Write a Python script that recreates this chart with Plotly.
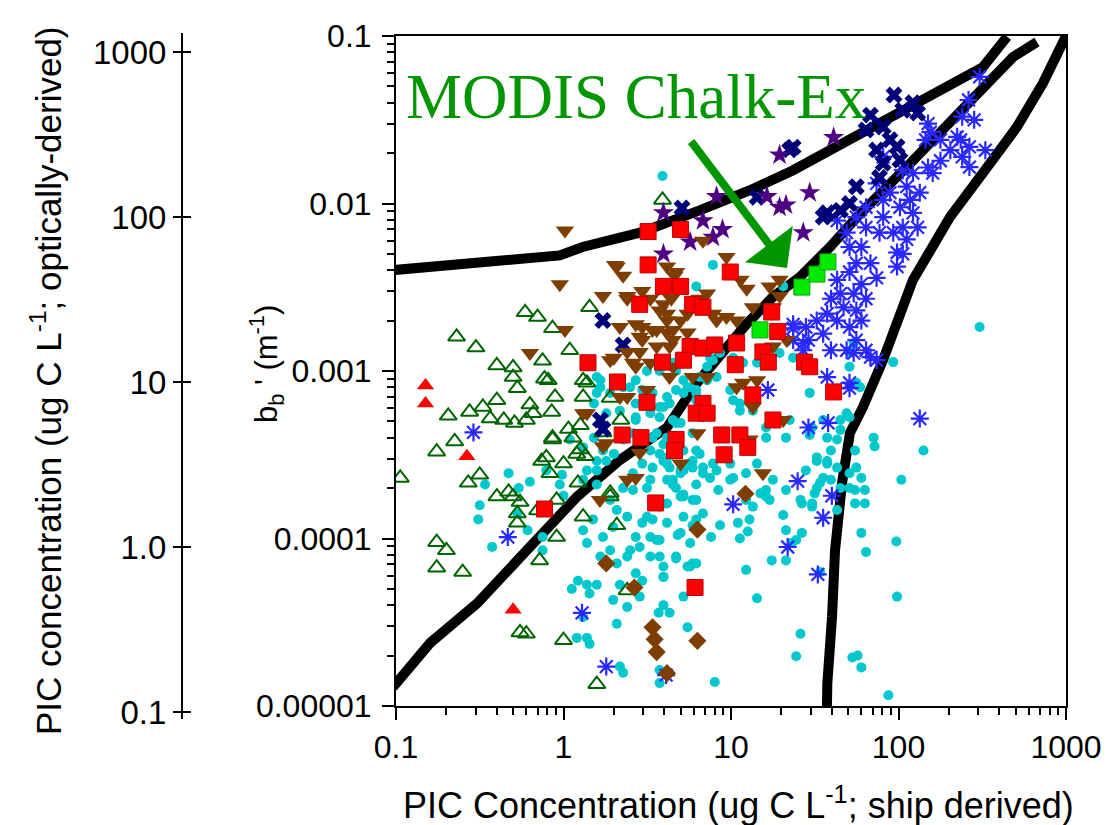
import plotly.graph_objects as go

# ---------------- data ----------------
cyan_pts = [
 (0.34,2.1e-4),(0.316,1.58e-4),(0.31,1.3e-4),(0.47,2.45e-4),(0.63,2.18e-4),(0.54,2.0e-4),(0.53,1.41e-4),(0.61,1.12e-4),
 (0.375,8.9e-5),(0.75,8.5e-5),(0.75,1.02e-4),(0.98,2.4e-4),(0.95,2.1e-4),(1.0,1.8e-4),(1.31,3.5e-4),(1.58,2.9e-4),
 (1.38,2.55e-4),(1.58,2.1e-4),(1.72,3.35e-4),(1.52,4.0e-4),(1.09,3.9e-4),(1.58,9.2e-4),(1.66,8.0e-4),(1.9,7.4e-4),
 (2.27,8.0e-4),(2.7,8.8e-4),(3.15,1.0e-3),(3.95,1.16e-3),(4.7,1.0e-3),(5.2,8.8e-4),(5.7,8.0e-4),(5.2,7.4e-4),
 (6.2,6.7e-4),(2.7,6.4e-4),(2.7,5.3e-4),(3.3,5.6e-4),(3.95,6.1e-4),(4.7,7.7e-4),(3.3,3.35e-4),(2.95,2.8e-4),
 (2.6,2.45e-4),(3.4,2.65e-4),(4.15,3.05e-4),(5.2,3.35e-4),(5.7,2.8e-4),(6.2,3.35e-4),(5.0,2.45e-4),(4.15,2.24e-4),
 (3.15,2.0e-4),(2.6,1.95e-4),(2.27,2.0e-4),(1.9,1.7e-4),(2.08,1.48e-4),(2.4,1.35e-4),(1.98,1.17e-4),(1.72,1.02e-4),
 (1.5,1.3e-4),(1.31,1.12e-4),(1.38,9.4e-5),(1.66,7.8e-5),(1.9,8.5e-5),(2.08,7.1e-5),(2.4,7.8e-5),(2.85,8.9e-5),
 (3.3,1.02e-4),(3.75,9.8e-5),(4.15,1.24e-4),(3.75,1.55e-4),(3.15,1.35e-4),(2.95,1.24e-4),(2.7,1.02e-4),(2.5,8.5e-5),
 (3.3,7.8e-5),(3.95,6.8e-5),(4.7,7.8e-5),(5.7,9.4e-5),(5.7,6.8e-5),(6.2,7.1e-5),(5.0,1.08e-4),(5.2,1.35e-4),
 (6.2,1.3e-4),(6.2,1.7e-4),(5.2,1.78e-4),(4.5,2.1e-4),(2.7,6.2e-5),(2.95,5.6e-5),(3.95,5.9e-5),(2.17,5.3e-5),
 (1.98,4.3e-5),(2.4,3.9e-5),(2.08,3.1e-5),(1.58,5.3e-5),(1.38,5.3e-5),(1.22,5.6e-5),(1.12,5.0e-5),(1.43,4.7e-5),
 (1.31,3.4e-5),(1.2,2.55e-5),(1.38,2.55e-5),(1.43,2.35e-5),(2.17,1.72e-5),(2.27,1.58e-5),(3.75,1.37e-5),(3.75,1.64e-5),
 (4.3,3.6e-5),(5.5,2.95e-5),(3.95,4.0e-5),(2.85,4.5e-5),(5.2,4.5e-5),
 (3.75,1.0e-3),(4.5,1.12e-3),(7.5,1.2e-3),(10.3,1.2e-3),(11.8,1.12e-3),(14.3,1.12e-3),(19.5,1.28e-3),(23.5,1.2e-3),
 (29.5,7.4e-4),(51,1.06e-3),(56,8.5e-4),(93,1.13e-3),(3.4,7.4e-4),(4.3,6.4e-4),(6.2,7.7e-4),(8.2,9.2e-4),
 (9.9,7.7e-4),(11.3,6.4e-4),(3.75,5.3e-4),(4.5,5.1e-4),(5.0,4.9e-4),(3.4,4.0e-4),(3.95,3.65e-4),(3.95,2.9e-4),
 (4.3,2.65e-4),(5.2,2.55e-4),(5.9,2.9e-4),(6.5,3.2e-4),(6.8,2.65e-4),(8.2,2.55e-4),(9.9,2.8e-4),(10.3,2.3e-4),
 (7.5,2.3e-4),(6.2,2.1e-4),(4.7,2.0e-4),(5.0,1.78e-4),(4.15,1.62e-4),(5.9,1.7e-4),(6.8,1.41e-4),(8.4,1.95e-4),
 (11,1.24e-4),(12.6,1.1e-4),(13.5,1.55e-4),(16.2,1.78e-4),(16.2,1.95e-4),(12.9,1.3e-4),(8.6,1.2e-4),(7.6,1.02e-4),
 (5.9,1.2e-4),(4.8,1.05e-4),(3.6,9.8e-5),(3.4,1.3e-4),(3.75,7.8e-5),(4.7,7.6e-5),(5.5,6.8e-5),(5.9,7.1e-5),
 (3.95,5.9e-5),(11.3,1.0e-4),(12.3,6.5e-5),(14.3,4.4e-5),(17.5,7.4e-5),(21.3,7.4e-5),(20.5,1.38e-4),(21.3,1.12e-4),
 (24.5,9.8e-5),(26.5,1.08e-4),(23,9.4e-5),(26.5,1.62e-4),(30.5,1.62e-4),(31.6,1.86e-4),(34,2.15e-4),(32.5,2.9e-4),
 (37.5,2.9e-4),(35.5,2.3e-4),(39.5,3.35e-4),(43,3.9e-4),(45,4.45e-4),(51,5.3e-4),(45,5.1e-4),(35.5,5.1e-4),
 (30.5,4.6e-4),(29.5,4.15e-4),(21.3,4.0e-4),(16.2,4.0e-4),(22.4,5.1e-4),(43,1.48e-4),(51,2.45e-4),(55,3.35e-4),
 (56,2.65e-4),(60,2.3e-4),(55,1.95e-4),(63,1.95e-4),(63,1.62e-4),(60,1.08e-4),(64,8.3e-5),(71,4.0e-4),
 (72,3.55e-4),(104,2.24e-4),(97,9.6e-5),(98,4.5e-5),(141,3.35e-4),(26,2.7e-5),(24.5,1.98e-5),(53,1.95e-5),
 (57,2.0e-5),(60,1.7e-5),(87,1.16e-5),(8.0,1.39e-5),(3.7,3.6e-5),(34,6.3e-5),(51,1.3e-3),(305,1.83e-3),
 (7.8,4.3e-3),(6.2,3.2e-3),(20.5,3.2e-3),(54,1.47e-3),(0.79,2.55e-4),(7.8,1.16e-3),(8.6,1.28e-3),(7.2,1.06e-3),
 (6.5,9.2e-4),(5.5,8.0e-4),(4.15,7.0e-4),(3.75,6.1e-4),(2.7,5.1e-4),(2.6,4.25e-4),(2.27,3.9e-4),(2.0,3.2e-4),
 (1.8,2.9e-4),(1.58,2.55e-4),(1.31,2.24e-4),(3.6,4.25e-4),(4.15,4.0e-4),(3.75,3.2e-4),(4.15,2.8e-4),(5.0,2.55e-4),
 (5.9,2.65e-4),(6.8,2.45e-4),(7.8,2.8e-4),(5.9,4.25e-4),(4.7,4.9e-4),(10.3,6.7e-4),(11.3,5.8e-4),(13.5,5.8e-4),
 (16.2,4.6e-4),(9.4,3.05e-4),(9.9,2.24e-4),(12.3,2.45e-4),(14.3,2.8e-4),(17.8,2.24e-4),(21.3,1.95e-4),(28,2.55e-4),
 (32.5,3.05e-4),(37.5,2.8e-4),(43,2.65e-4),(39.5,2.24e-4),(45,2.0e-4),(32.5,2.0e-4),(26,1.7e-4),(30.5,1.55e-4),
 (17,1.7e-4),(15,1.86e-4),(12.3,1.7e-4),(5.2,1.83e-4),(4.5,2.24e-4),(3.3,2.24e-4),(1.66,8.8e-4),(1.58,7.4e-4),
 (1.52,6.4e-4),(1.8,5.6e-4),(2.17,5.8e-4),(2.5,8.0e-4),(2.95,7.7e-4),(6.2,7.4e-4),(7.2,8.8e-4),(59,8.0e-4),
 (51,2.0e-4),(55,1.62e-4),(49,5.6e-4),(37.5,4.0e-4),(3.9,0.0146),
]

green_tri_pts = [
 (3.9,0.0105),(0.59,0.00224),(0.70,0.0021),(1.43,0.0024),(0.86,0.0018),(0.23,0.0016),(0.30,0.00138),(1.09,0.00133),
 (0.40,0.00108),(0.50,0.00105),(0.75,0.00115),(0.205,5.4e-4),(0.275,5.7e-4),(0.33,6.1e-4),(0.40,6.7e-4),(0.365,5.2e-4),
 (0.44,5.1e-4),(0.51,4.9e-4),(0.60,5.1e-4),(0.66,5.6e-4),(0.50,9.2e-4),(0.53,7.9e-4),(0.77,9.0e-4),(0.89,7.0e-4),
 (0.85,5.7e-4),(0.63,6.3e-4),(0.224,3.8e-4),(0.175,3.3e-4),(0.106,2.3e-4),(0.27,2.15e-4),(0.316,2.4e-4),(0.40,1.78e-4),
 (0.47,1.9e-4),(0.50,1.78e-4),(0.55,1.65e-4),(0.53,1.41e-4),(0.53,1.24e-4),(0.74,2.9e-4),(0.86,4.0e-4),(1.07,4.5e-4),
 (1.26,4.75e-4),(1.0,2.8e-4),(1.26,3.4e-4),(1.35,3.1e-4),(1.22,2.15e-4),(1.31,1.35e-4),(0.70,1.47e-4),(0.91,1.02e-4),
 (0.72,7.4e-5),(2.2,5.1e-4),(1.9,1.87e-4),(2.08,1.2e-4),(0.175,9.5e-5),(0.20,8.5e-5),(0.175,6.7e-5),(0.25,6.3e-5),
 (0.55,2.75e-5),(0.60,2.7e-5),(1.0,2.47e-5),(1.58,1.35e-5),(2.4,4.9e-5),(1.38,8.5e-4),(1.9,6.9e-4),(0.81,8.8e-4),
 (1.31,8.8e-4),(1.31,7.0e-4),(0.86,3.9e-4),(1.14,4.0e-4),(1.72,4.3e-4),(1.2,3.2e-4),(0.79,3.05e-4),(0.83,2.45e-4),
 (1.9,1.78e-4),(0.91,1.7e-4),
]

red_tri_pts = [(0.15,8.2e-4),(0.15,6.4e-4),(0.265,3.1e-4),(0.50,3.75e-5)]

blue_ast_pts = [
 (0.29,4.3e-4),(0.465,1.02e-4),(1.29,3.6e-5),(1.8,1.72e-5),(4.1,1.53e-5),(16.6,7.7e-4),(37.5,9.2e-4),(51,7.9e-4),
 (134,5.2e-4),(29,4.6e-4),(38,4.9e-4),(25,2.2e-4),(40,1.8e-4),(10.3,1.6e-4),(35.5,1.33e-4),(21.8,8.9e-5),
 (33,6.1e-5),(27,1.46e-3),(23.5,1.8e-3),
 (305,0.057),(262,0.0415),(240,0.033),(283,0.0316),(224,0.025),(265,0.0218),(178,0.018),(155,0.0267),
 (145,0.024),(204,0.0208),(150,0.0164),(122,0.0152),(112,0.0126),(134,0.0116),(117,0.0105),(102,0.0095),
 (122,0.0088),(130,0.0072),(106,0.0072),(93,0.0067),(112,0.0061),(98,0.0051),(81,0.0083),(77,0.0067),
 (64,0.0072),(60,0.0055),(51,0.0055),(56,0.0044),(68,0.0044),(74,0.0036),(60,0.0033),(51,0.0039),
 (43,0.0035),(45,0.0029),(54,0.0029),(64,0.0027),(56,0.0023),(47,0.0024),(39.5,0.0027),(37.5,0.0022),
 (32.5,0.002),(43,0.002),(51,0.00183),(60,0.002),(35.5,0.00167),(28,0.00183),(23.5,0.0019),(23.5,0.00153),
 (29,0.00153),(27,0.00133),(56,0.00153),(49,0.00133),(64,0.00133),(39.5,0.00133),(98,0.0042),(106,0.005),
 (89,0.0116),(106,0.0158),(81,0.019),(74,0.0132),(64,0.0095),(56,0.0083),(81,0.0105),(49,0.0067),
 (43,0.0079),(74,0.00116),(54,0.00128),(68,0.00121),(51,0.00085),(150,0.030),(178,0.024),(235,0.024),
 (265,0.0165),(160,0.0152),(240,0.019),(330,0.0208),
]

navy_x_pts = [
 (122,0.04),(130,0.0347),(106,0.036),(81,0.0286),(89,0.024),(74,0.0209),(81,0.0174),(98,0.0218),
 (64,0.0275),(77,0.0143),(56,0.0126),(37.5,0.0088),(51,0.010),(23.5,0.0217),(14.3,0.0109),(5.1,0.0094),
 (1.72,0.002),(2.27,0.00143),(45,0.0091),(35.5,0.0083),(1.66,5.1e-4),(1.72,4.5e-4),(22.4,0.0209),
 (94,0.0445),(68,0.0337),(102,0.0182),
]

purple_star_pts = [
 (3.95,0.0088),(3.95,0.005),(5.7,0.0059),(6.8,0.0079),(8.2,0.011),(8.9,0.007),(7.8,0.0063),(16.4,0.011),
 (19.5,0.0095),(21.3,0.0098),(27,0.0067),(29.5,0.0116),(19.5,0.0195),(41,0.0248),
]

brown_tri_pts = [
 (1.02,0.0069),(0.95,0.0033),(2.08,0.0042),(2.27,0.0037),(2.95,0.0030),(4.15,0.0042),(4.7,0.0039),(2.4,0.0027),
 (3.3,0.0027),(3.75,0.0023),(4.15,0.002),(4.5,0.00176),(5.0,0.002),(3.6,0.00176),(2.17,0.00183),(2.7,0.0019),
 (2.95,0.00153),(3.6,0.0014),(4.3,0.0014),(1.02,0.00176),(0.63,0.00128),(1.9,0.00116),(2.6,0.00112),(2.03,0.0043),
 (2.4,0.0028),(3.95,0.0025),(4.6,0.0037),(4.4,0.0027),(4.15,0.0022),(3.4,0.00176),(2.95,0.00183),(2.0,0.0012),
 (2.4,0.0013),(2.85,0.0013),(4.15,0.0017),(4.5,0.00153),(5.5,0.0022),(6.8,0.006),(6.5,0.0027),(7.2,0.0029),
 (7.8,0.0022),(8.2,0.002),(9.4,0.0048),(9.4,0.0021),(11.4,0.0035),(12.4,0.0031),(10.8,0.002),(13.5,0.0024),
 (17,0.0032),(19.5,0.0035),(19.5,0.0028),(17.8,0.0024),(21.5,0.00153),(17.8,0.0014),(14.3,8.8e-4),(11.8,8.5e-4),
 (13.5,6.1e-4),(5.5,0.0017),(4.5,0.00106),(3.3,0.00112),(2.7,0.00106),(2.4,7.0e-4),(1.38,5.6e-4),(1.8,3.7e-4),
 (2.85,3.25e-4),(3.15,7.7e-4),(6.3,4.25e-4),(5.0,2.8e-4),(15.5,2.45e-4),(2.4,2.24e-4),(1.65,1.7e-4),(2.7,2.3e-4),
 (4.3,9.2e-4),(2.17,7.0e-4),(6.5,0.0014),(7.2,9.2e-4),(1.72,0.0028),(2.85,0.0016),(1.31,5.6e-4),(1.72,3.55e-4),
 (5.9,9.2e-4),(10.8,8.0e-4),(20.5,5.1e-4),(12.9,3.9e-4),
]

brown_dia_pts = [(1.8,7.1e-5),(2.65,5.1e-5),(3.4,2.95e-5),(3.5,2.5e-5),(3.6,2.1e-5),(4.15,1.57e-5),(6.3,1.13e-4),(6.3,2.45e-5),(12.2,1.85e-4)]

red_sq_pts = [
 (3.2,0.0068),(5.0,0.007),(3.2,0.0043),(9.9,0.0039),(3.95,0.0032),(5.0,0.0032),(2.85,0.0025),(5.9,0.0025),
 (6.8,0.0024),(17.5,0.00225),(19,0.00172),(10.8,0.00147),(5.7,0.0014),(6.8,0.00137),(8.0,0.00143),(5.2,0.00116),
 (3.9,0.00113),(1.4,0.00112),(10.6,0.00109),(15.5,0.0013),(16.7,0.00113),(27.5,0.00113),(29.5,0.00106),(2.1,8.6e-4),
 (13.5,7.2e-4),(3.15,6.5e-4),(6.8,6.4e-4),(6.2,5.6e-4),(7.2,5.6e-4),(17.8,5.1e-4),(41,7.5e-4),(2.24,4.15e-4),
 (2.9,4.0e-4),(4.7,3.9e-4),(4.6,3.35e-4),(8.8,4.15e-4),(11.3,4.15e-4),(9.1,3.16e-4),(12.6,3.5e-4),(3.55,1.63e-4),
 (0.77,1.5e-4),(6.1,5.1e-5),
]

modis_pts = [(14.9,1.76e-3),(26.5,3.17e-3),(32.6,3.79e-3),(37.9,4.48e-3)]

upper_curve_x = [0.096, 0.33, 0.95, 1.3, 2.08, 2.86, 6.5, 13, 23.5, 51, 106, 203, 319, 445]
upper_curve_y = [0.0040, 0.0045, 0.0049, 0.0055, 0.0061, 0.0067, 0.0091, 0.012, 0.0158, 0.024, 0.036, 0.050, 0.0652, 0.099]

middle_curve_x = [0.096, 0.16, 0.305, 0.573, 1.2, 2.17, 4.15, 6.27, 9.46, 12.5, 17.8, 25.8, 39, 56.5, 112, 203, 319, 483, 671]
middle_curve_y = [1.3e-5, 2.38e-5, 4.1e-5, 8.2e-5, 1.77e-4, 2.94e-4, 4.6e-4, 8.5e-4, 1.39e-3, 1.93e-3, 2.77e-3, 3.64e-3,
                  5.5e-3, 8.3e-3, 0.0165, 0.0303, 0.0477, 0.075, 0.092]

right_curve_x = [37.4, 37.6, 40.1, 41.8, 46, 51.3, 61.4, 74.4, 80.8, 122, 203, 319, 509, 729, 1000]
right_curve_y = [1e-5, 1.37e-5, 3.4e-5, 8.5e-5, 2.14e-4, 4.26e-4, 6.1e-4, 9.7e-4, 1.16e-3, 3.5e-3, 8.3e-3, 0.0152,
                 0.0286, 0.0524, 0.1]

x_tickvals = [0.1, 1, 10, 100, 1000]
x_ticktext = ["0.1", "1", "10", "100", "1000"]
y_tickvals = [0.00001, 0.0001, 0.001, 0.01, 0.1]
y_ticktext = ["0.00001", "0.0001", "0.001", "0.01", "0.1"]
pic_tickvals = [0.1, 1, 10, 100, 1000]
pic_ticktext = ["0.1", "1.0", "10", "100", "1000"]

# ---------------- layout geometry ----------------
W, H = 1112, 825
ML, MR, MT, MB = 100, 46, 30, 100
PW, PH = W - ML - MR, H - MT - MB

def px(xp):
    return (xp - ML) / PW

def py(yp):
    return (H - MB - yp) / PH

FONT = "Liberation Sans, Arial, Helvetica, sans-serif"

def split(pts):
    return [p[0] for p in pts], [p[1] for p in pts]

fig = go.Figure()

for cx, cy in [(upper_curve_x, upper_curve_y), (middle_curve_x, middle_curve_y), (right_curve_x, right_curve_y)]:
    fig.add_trace(go.Scatter(x=cx, y=cy, mode="lines", line=dict(color="black", width=10), hoverinfo="skip"))

def add_pts(pts, symbol, size, color, line_color=None, line_width=0):
    x, y = split(pts)
    fig.add_trace(go.Scatter(
        x=x, y=y, mode="markers",
        marker=dict(symbol=symbol, size=size, color=color,
                    line=dict(color=line_color or color, width=line_width))))

add_pts(cyan_pts, "circle", 10, "rgb(0,200,205)")
add_pts(green_tri_pts, "triangle-up-open", 15, "rgb(0,100,0)", "rgb(0,100,0)", 2)
add_pts(blue_ast_pts, "asterisk-open", 15, "rgb(40,40,255)", "rgb(40,40,255)", 2.2)
add_pts(navy_x_pts, "x", 15, "rgb(0,0,120)")
add_pts(purple_star_pts, "star", 16, "rgb(80,0,130)")
add_pts(brown_tri_pts, "triangle-down", 16, "rgb(125,62,0)")
add_pts(brown_dia_pts, "diamond", 14, "rgb(125,62,0)")
add_pts(red_sq_pts, "square", 16, "rgb(255,0,0)", "rgb(190,0,0)", 1)
add_pts(red_tri_pts, "triangle-up", 15, "rgb(255,0,0)")
add_pts(modis_pts, "square", 16, "rgb(0,235,0)", "rgb(0,170,0)", 1)

# invisible traces so the left PIC axis subplots exist
fig.add_trace(go.Scatter(x=[None], y=[None], xaxis="x", yaxis="y2", showlegend=False))
fig.add_trace(go.Scatter(x=[None], y=[None], xaxis="x", yaxis="y3", showlegend=False))

tickfont = dict(family=FONT, size=32, color="black")

fig.update_layout(
    width=W, height=H,
    margin=dict(l=ML, r=MR, t=MT, b=MB, autoexpand=False),
    paper_bgcolor="white", plot_bgcolor="rgba(0,0,0,0)",
    showlegend=False,
    xaxis=dict(
        type="log", range=[-1, 3], domain=[px(396), 1], automargin=False,
        showgrid=False, zeroline=False,
        showline=True, linecolor="black", linewidth=2, mirror=True,
        ticks="outside", ticklen=12, tickwidth=2, tickcolor="black",
        tickvals=x_tickvals, ticktext=x_ticktext, tickfont=tickfont,
        minor=dict(ticks="outside", ticklen=7, tickwidth=1.5, tickcolor="black", dtick="D1", showgrid=False),
    ),
    yaxis=dict(
        type="log", range=[-5, -1], domain=[py(706), py(36)], automargin=False,
        showgrid=False, zeroline=False,
        showline=True, linecolor="black", linewidth=2, mirror=True,
        ticks="outside", ticklen=12, tickwidth=2, tickcolor="black",
        tickvals=y_tickvals, ticktext=y_ticktext, tickfont=tickfont,
        ticklabelstandoff=4,
        minor=dict(ticks="outside", ticklen=7, tickwidth=1.5, tickcolor="black", dtick="D1", showgrid=False),
    ),
    yaxis2=dict(
        type="log", range=[-1.0424, 3.1152], domain=[py(719), py(33)], automargin=False,
        anchor="free", position=px(182), side="left",
        showgrid=False, zeroline=False,
        showline=True, linecolor="black", linewidth=2,
        ticks="outside", ticklen=8, tickwidth=2, tickcolor="black",
        tickvals=pic_tickvals, ticktext=pic_ticktext,
        tickfont=dict(family=FONT, size=33, color="black"),
    ),
    yaxis3=dict(
        type="log", range=[-1.0424, 3.1152], domain=[py(719), py(33)], automargin=False,
        anchor="free", position=px(182), side="left",
        showgrid=False, zeroline=False, showline=False,
        ticks="inside", ticklen=8, tickwidth=2, tickcolor="black",
        tickvals=pic_tickvals, showticklabels=False,
    ),
)

fig.add_annotation(
    text="PIC Concentration (ug C L<sup>-1</sup>; ship derived)",
    xref="paper", yref="paper", x=px(738), y=py(803),
    showarrow=False, xanchor="center", yanchor="middle",
    font=dict(family=FONT, size=36, color="black"))

fig.add_annotation(
    text="PIC concentration (ug C L<sup>-1</sup>; optically-derived)",
    xref="paper", yref="paper", x=px(46), y=py(381), textangle=-90,
    showarrow=False, xanchor="center", yanchor="middle",
    font=dict(family=FONT, size=35, color="black"))

fig.add_annotation(
    text="b<sub>b</sub> ' (m<sup>-1</sup>)",
    xref="paper", yref="paper", x=px(266), y=py(364), textangle=-90,
    showarrow=False, xanchor="center", yanchor="middle",
    font=dict(family=FONT, size=31, color="black"))

fig.add_annotation(
    text="MODIS Chalk-Ex",
    xref="paper", yref="paper", x=px(404), y=py(97),
    showarrow=False, xanchor="left", yanchor="middle",
    font=dict(family="Liberation Serif, Times New Roman, serif", size=63, color="rgb(0,150,0)"))

fig.add_annotation(
    text="", xref="paper", yref="paper", x=px(787), y=py(268),
    ax=690 - 787, ay=140 - 268, axref="pixel", ayref="pixel",
    showarrow=True, arrowhead=1, arrowsize=1.25, arrowwidth=8,
    arrowcolor="rgb(0,150,0)", standoff=0)

fig.write_html(
    "out.html",
    config={"displayModeBar": False},
    post_script="document.body.style.margin='0px';document.body.style.overflow='hidden';",
)
